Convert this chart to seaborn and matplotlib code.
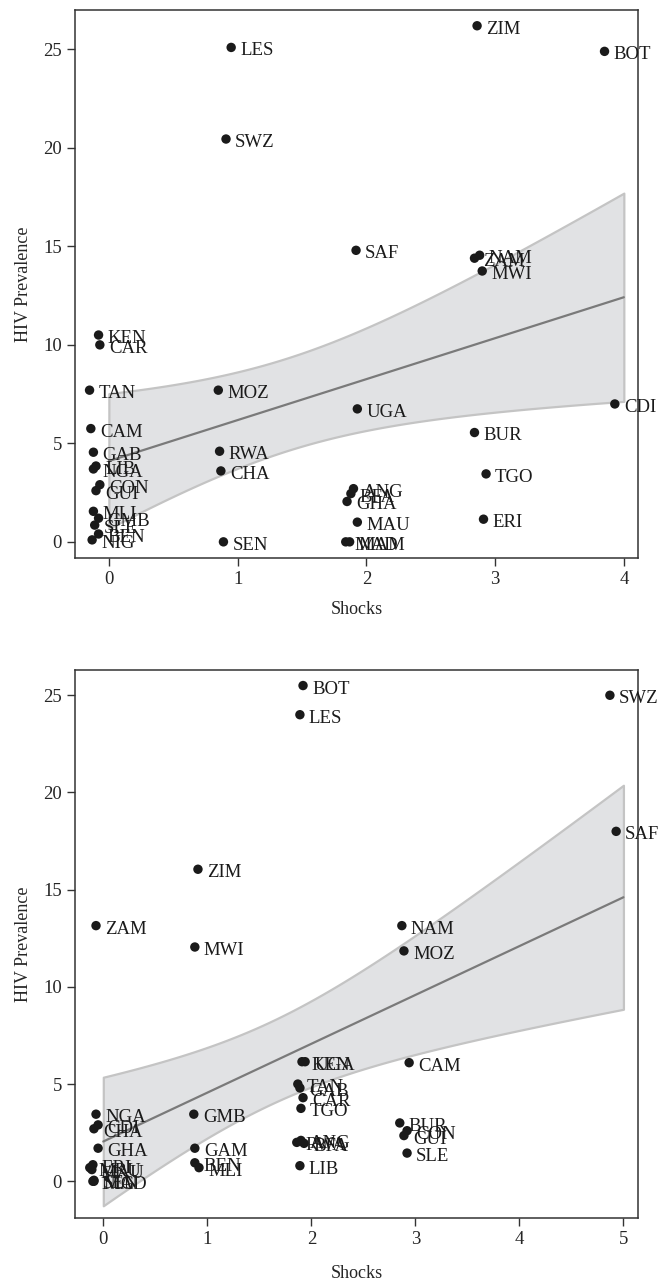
import matplotlib
matplotlib.use("Agg")
import matplotlib.pyplot as plt
import seaborn as sns
import pandas as pd
import numpy as np

# Panel A: countries, shocks (jittered position as plotted) and HIV prevalence
top_countries = ["ZIM", "LES", "BOT", "SWZ", "SAF", "NAM", "ZAM", "MWI",
                 "KEN", "CAR", "TAN", "MOZ", "UGA", "CDI", "CAM", "BUR",
                 "GAB", "RWA", "LIB", "NGA", "CHA", "TGO", "CON", "GUI",
                 "ANG", "BFA", "GHA", "MLI", "GMB", "ERI", "MAU", "SLE",
                 "BEN", "NIG", "SEN", "MAD", "MAM"]
top_shocks = [2.86, 0.95, 3.85, 0.91, 1.92, 2.88, 2.84, 2.90,
              -0.08, -0.07, -0.15, 0.85, 1.93, 3.93, -0.14, 2.84,
              -0.12, 0.86, -0.10, -0.12, 0.87, 2.93, -0.07, -0.10,
              1.90, 1.88, 1.85, -0.12, -0.08, 2.91, 1.93, -0.11,
              -0.08, -0.13, 0.89, 1.84, 1.87]
top_hiv = [26.2, 25.1, 24.9, 20.45, 14.8, 14.55, 14.4, 13.75,
           10.5, 10.0, 7.7, 7.7, 6.75, 7.0, 5.75, 5.55,
           4.55, 4.6, 3.85, 3.7, 3.6, 3.45, 2.9, 2.6,
           2.7, 2.45, 2.05, 1.55, 1.2, 1.15, 1.0, 0.85,
           0.4, 0.1, 0.0, 0.0, 0.0]

# Panel B
bot_countries = ["BOT", "LES", "SWZ", "SAF", "ZIM", "ZAM", "NAM", "MWI",
                 "MOZ", "KEN", "UGA", "CAM", "TAN", "GAB", "CAR", "TGO",
                 "GMB", "NGA", "CDI", "CHA", "GHA", "GAM", "BUR", "CON",
                 "GUI", "SLE", "ANG", "RWA", "BFA", "LIB", "BEN", "MLI",
                 "ERI", "MRU", "MAU", "SEN", "MAD", "NIG"]
bot_shocks = [1.92, 1.89, 4.87, 4.93, 0.91, -0.07, 2.87, 0.88,
              2.89, 1.91, 1.94, 2.94, 1.87, 1.89, 1.92, 1.90,
              0.87, -0.07, -0.05, -0.09, -0.05, 0.88, 2.85, 2.92,
              2.89, 2.92, 1.90, 1.86, 1.93, 1.89, 0.88, 0.92,
              -0.10, -0.13, -0.11, -0.09, -0.09, -0.10]
bot_hiv = [25.5, 24.0, 25.0, 18.0, 16.05, 13.15, 13.15, 12.05,
           11.85, 6.15, 6.15, 6.1, 5.0, 4.8, 4.3, 3.75,
           3.45, 3.45, 2.9, 2.7, 1.7, 1.7, 3.0, 2.6,
           2.35, 1.45, 2.1, 2.0, 1.95, 0.8, 0.95, 0.7,
           0.85, 0.7, 0.6, 0.05, 0.0, 0.0]

top = pd.DataFrame({"country": top_countries, "x": top_shocks, "hiv": top_hiv})
top["shocks"] = top["x"].round()
bot = pd.DataFrame({"country": bot_countries, "x": bot_shocks, "hiv": bot_hiv})
bot["shocks"] = bot["x"].round()

T_CRIT = 2.03  # t(0.975, ~36 df)

sns.set_theme(style="ticks")
plt.rcParams["font.family"] = ["Liberation Serif", "DejaVu Serif"]

fig = plt.figure(figsize=(6.62, 12.85), dpi=100)
W, H = 662, 1285
ax1 = fig.add_axes([75 / W, 1 - 558 / H, 563 / W, 548 / H])
ax2 = fig.add_axes([75 / W, 1 - 1218 / H, 563 / W, 548 / H])


def panel(ax, df, xlim, ylim, xticks, pad):
    # analytic 95% CI of the linear fit (like lfitci)
    x, y = df["shocks"].to_numpy(), df["hiv"].to_numpy()
    n = len(x)
    b, a = np.polyfit(x, y, 1)
    s = np.sqrt(np.sum((y - (a + b * x)) ** 2) / (n - 2))
    sxx = np.sum((x - x.mean()) ** 2)
    grid = np.linspace(x.min(), x.max(), 200)
    se = s * np.sqrt(1 / n + (grid - x.mean()) ** 2 / sxx)
    fit = a + b * grid
    ax.fill_between(grid, fit - T_CRIT * se, fit + T_CRIT * se,
                    facecolor="#e1e2e4", edgecolor="#c4c4c4", lw=1.6, zorder=1)
    sns.regplot(data=df, x="shocks", y="hiv", ax=ax, scatter=False, ci=None,
                color="#7a7a7a", line_kws={"lw": 1.6, "zorder": 2})
    sns.scatterplot(data=df, x="x", y="hiv", ax=ax, color="#1a1a1a",
                    s=46, edgecolor="none", zorder=3)
    for _, r in df.iterrows():
        ax.annotate(r["country"], (r["x"], r["hiv"]), xytext=(6.5, -2.5),
                    textcoords="offset points", va="center", ha="left",
                    fontsize=13.5, color="#1a1a1a", zorder=4,
                    annotation_clip=False)
    ax.set_xlim(*xlim)
    ax.set_ylim(*ylim)
    ax.set_xticks(xticks)
    ax.set_yticks([0, 5, 10, 15, 20, 25])
    ax.set_xlabel("Shocks", fontsize=13, labelpad=pad)
    ax.set_ylabel("HIV Prevalence", fontsize=13, labelpad=8)
    ax.tick_params(labelsize=13.5, length=6, width=1, color="#333333",
                   direction="out")
    for sp in ax.spines.values():
        sp.set_visible(True)
        sp.set_color("#333333")
        sp.set_linewidth(1.1)


panel(ax1, top, (-0.263, 4.11), (-0.82, 27.0), [0, 1, 2, 3, 4], 9)
panel(ax2, bot, (-0.272, 5.14), (-1.89, 26.3), [0, 1, 2, 3, 4, 5], 12)

fig.savefig("out.png", dpi=100)
